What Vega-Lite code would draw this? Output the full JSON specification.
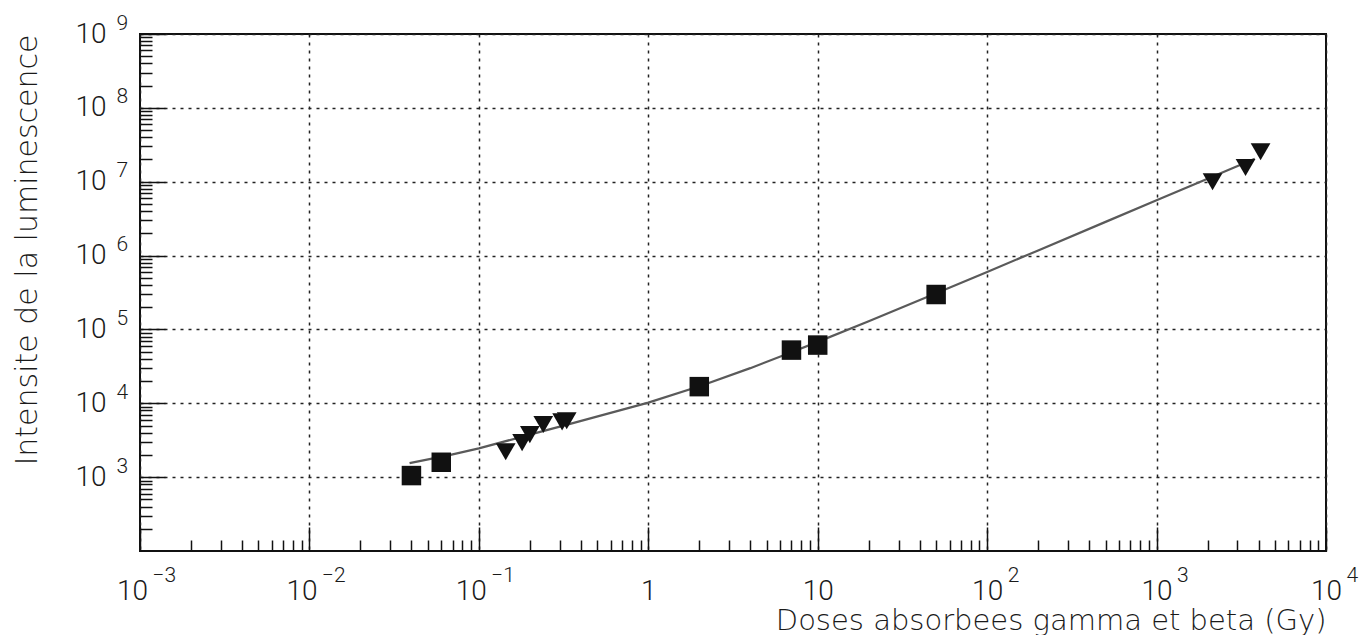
{
  "$schema": "https://vega.github.io/schema/vega-lite/v6.json",
  "width": 1186,
  "height": 517,
  "autosize": {"type": "none"},
  "padding": {"left": 140, "top": 34, "right": 35, "bottom": 84},
  "background": "white",
  "config": {
    "view": {"stroke": "#111", "strokeWidth": 2},
    "axis": {
      "domain": false,
      "labelFont": "Roboto",
      "labelFontWeight": 300,
      "labelColor": "#1a1a1a",
      "titleFont": "DejaVu Sans",
      "titleFontWeight": 300,
      "titleColor": "#1a1a1a",
      "labelOverlap": false,
      "labelFlush": false,
      "labelBound": false,
      "tickColor": "#111",
      "tickWidth": 1.5,
      "gridColor": "#222",
      "gridWidth": 1.5,
      "gridDash": [3, 5]
    }
  },
  "datasets": {
    "fit": [
      {"dose": 0.039, "intensity": 1550},
      {"dose": 0.068, "intensity": 2000},
      {"dose": 0.1, "intensity": 2450},
      {"dose": 0.2, "intensity": 3760},
      {"dose": 0.35, "intensity": 5300},
      {"dose": 1, "intensity": 10200},
      {"dose": 2.07, "intensity": 17400},
      {"dose": 4, "intensity": 29900},
      {"dose": 7, "intensity": 49000},
      {"dose": 10, "intensity": 67800},
      {"dose": 20, "intensity": 129000},
      {"dose": 50, "intensity": 308000},
      {"dose": 100, "intensity": 600000},
      {"dose": 200, "intensity": 1175000},
      {"dose": 500, "intensity": 2860000},
      {"dose": 1000, "intensity": 5600000},
      {"dose": 2000, "intensity": 11000000},
      {"dose": 3800, "intensity": 20400000}
    ],
    "set1": [
      {"dose": 0.04, "intensity": 1050},
      {"dose": 0.06, "intensity": 1590},
      {"dose": 2, "intensity": 16800},
      {"dose": 7, "intensity": 52500},
      {"dose": 10, "intensity": 61400},
      {"dose": 50, "intensity": 297000}
    ],
    "set2": [
      {"dose": 0.144, "intensity": 2210},
      {"dose": 0.18, "intensity": 2930},
      {"dose": 0.2, "intensity": 3770},
      {"dose": 0.24, "intensity": 5160},
      {"dose": 0.31, "intensity": 5600},
      {"dose": 0.33, "intensity": 5800},
      {"dose": 2140, "intensity": 10000000},
      {"dose": 3350, "intensity": 15600000},
      {"dose": 4110, "intensity": 25500000}
    ]
  },
  "layer": [
    {
      "data": {"name": "fit"},
      "mark": {"type": "line", "color": "#5a5a5a", "strokeWidth": 2.2},
      "encoding": {
        "x": {
          "field": "dose",
          "type": "quantitative",
          "scale": {"type": "log", "domain": [0.001, 10000], "nice": false},
          "axis": {
            "orient": "bottom",
            "values": [0.001, 0.01, 0.1, 1, 10, 100, 1000, 10000],
            "labelExpr": "datum.value == 1 ? '1' : '10'",
            "labelFontSize": 28,
            "labelAlign": "center",
            "labelBaseline": "top",
            "labelOffset": {"condition": {"test": "datum.value < 0.5", "value": -8}, "value": 0},
            "tickSize": -24,
            "labelPadding": 50,
            "grid": true,
            "title": "Doses absorbees gamma et beta (Gy)",
            "titleFontSize": 29,
            "titleAnchor": "end",
            "titleAlign": "right",
            "titlePadding": 1
          }
        },
        "y": {
          "field": "intensity",
          "type": "quantitative",
          "scale": {"type": "log", "domain": [100, 1000000000], "nice": false},
          "axis": {
            "orient": "left",
            "values": [1000, 10000, 100000, 1000000, 10000000, 100000000, 1000000000],
            "labelExpr": "'10'",
            "labelFontSize": 28,
            "labelAlign": "right",
            "labelBaseline": "middle",
            "tickSize": -25,
            "labelPadding": 59,
            "grid": true,
            "title": "Intensite de la luminescence",
            "titleFontSize": 30,
            "titleAnchor": "end",
            "titlePadding": 32
          }
        }
      }
    },
    {
      "data": {"name": "set1"},
      "mark": {"type": "point", "shape": "square", "filled": true, "color": "#111", "opacity": 1, "size": 380},
      "encoding": {
        "x": {
          "field": "dose",
          "type": "quantitative",
          "scale": {"type": "log", "domain": [0.001, 10000], "nice": false},
          "axis": {
            "orient": "bottom",
            "values": [0.002, 0.003, 0.004, 0.005, 0.006, 0.007, 0.008, 0.009,
                       0.02, 0.03, 0.04, 0.05, 0.06, 0.07, 0.08, 0.09,
                       0.2, 0.3, 0.4, 0.5, 0.6, 0.7, 0.8, 0.9,
                       2, 3, 4, 5, 6, 7, 8, 9,
                       20, 30, 40, 50, 60, 70, 80, 90,
                       200, 300, 400, 500, 600, 700, 800, 900,
                       2000, 3000, 4000, 5000, 6000, 7000, 8000, 9000],
            "labels": false,
            "grid": false,
            "tickSize": -11,
            "title": null
          }
        },
        "y": {
          "field": "intensity",
          "type": "quantitative",
          "scale": {"type": "log", "domain": [100, 1000000000], "nice": false},
          "axis": {
            "orient": "left",
            "values": [200, 300, 400, 500, 600, 700, 800, 900,
                       2000, 3000, 4000, 5000, 6000, 7000, 8000, 9000,
                       20000, 30000, 40000, 50000, 60000, 70000, 80000, 90000,
                       200000, 300000, 400000, 500000, 600000, 700000, 800000, 900000,
                       2000000, 3000000, 4000000, 5000000, 6000000, 7000000, 8000000, 9000000,
                       20000000, 30000000, 40000000, 50000000, 60000000, 70000000, 80000000, 90000000,
                       200000000, 300000000, 400000000, 500000000, 600000000, 700000000, 800000000, 900000000],
            "labels": false,
            "grid": false,
            "tickSize": -12,
            "title": null
          }
        }
      }
    },
    {
      "data": {"name": "set2"},
      "mark": {"type": "point", "shape": "triangle-down", "filled": true, "color": "#111", "opacity": 1, "size": 390},
      "encoding": {
        "x": {
          "field": "dose",
          "type": "quantitative",
          "scale": {"type": "log", "domain": [0.001, 10000], "nice": false},
          "axis": {
            "orient": "bottom",
            "values": [0.001, 0.01, 0.1, 100, 1000, 10000],
            "labelExpr": "format(round(log(datum.value) / LN10), 'd')",
            "labelFontSize": 21,
            "labelAlign": "left",
            "labelBaseline": "top",
            "labelOffset": {"condition": {"test": "datum.value < 0.5", "value": 12}, "value": 20},
            "ticks": false,
            "tickSize": 0,
            "labelPadding": 13,
            "grid": false,
            "title": null
          }
        },
        "y": {
          "field": "intensity",
          "type": "quantitative",
          "scale": {"type": "log", "domain": [100, 1000000000], "nice": false},
          "axis": {
            "orient": "left",
            "values": [1000, 10000, 100000, 1000000, 10000000, 100000000, 1000000000],
            "labelExpr": "format(round(log(datum.value) / LN10), 'd')",
            "labelFontSize": 21,
            "labelAlign": "left",
            "labelBaseline": "middle",
            "labelOffset": -11,
            "ticks": false,
            "tickSize": 0,
            "labelPadding": 24,
            "grid": false,
            "title": null
          }
        }
      }
    }
  ],
  "resolve": {"axis": {"x": "independent", "y": "independent"}}
}
